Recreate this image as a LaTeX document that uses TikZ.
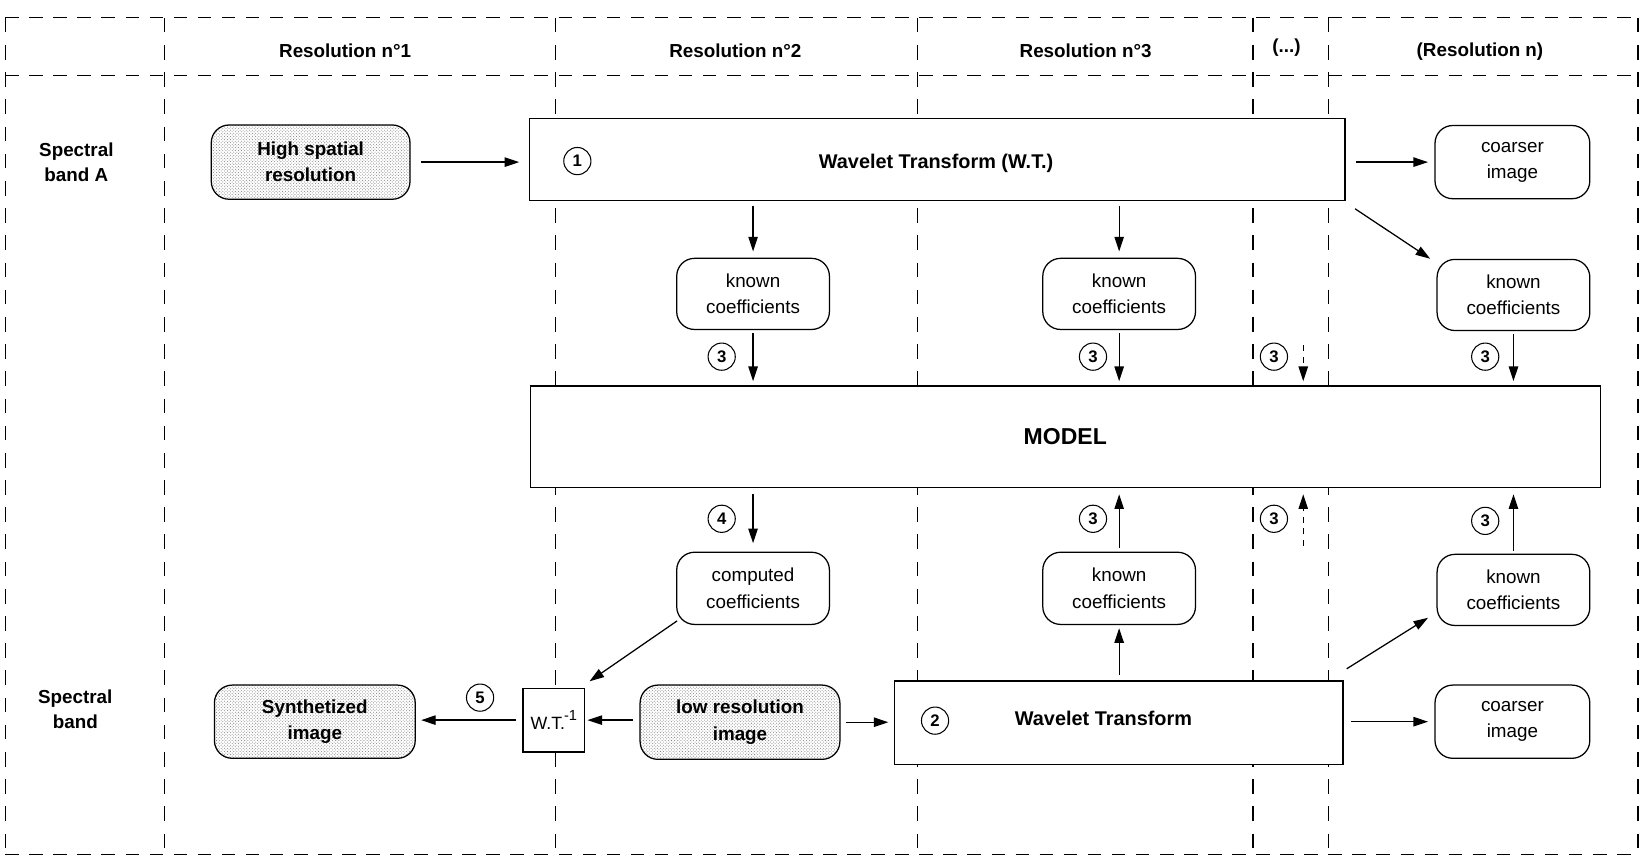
\documentclass[tikz,border=0pt]{standalone}
\usepackage{fontspec}
\setmainfont{Liberation Sans}
\usetikzlibrary{arrows.meta,patterns}
\begin{document}
\begin{tikzpicture}[x=1pt,y=-1pt,
  grid/.style={line width=1.1pt, dash pattern=on 13pt off 10pt},
  vgrid/.style={line width=1.1pt, dash pattern=on 14pt off 12pt},
  box/.style={draw, line width=1.2pt, fill=white, inner sep=0pt, align=center},
  rbox/.style={box, rounded corners=17pt, minimum width=146pt, minimum height=68pt, font=\fontsize{18}{25}\selectfont},
  shaded/.style={draw, line width=1.2pt, inner sep=0pt, align=center, rounded corners=17pt,
     preaction={fill=white}, pattern=crosshatch dots, pattern color=black!50,
     font=\bfseries\fontsize{18}{25}\selectfont},
  num/.style={draw, circle, line width=1pt, minimum size=26pt, inner sep=0pt, font=\bfseries\fontsize{16}{16}\selectfont},
  arr/.style={line width=1.2pt, -{Triangle[length=14pt,width=9pt]}},
  darr/.style={arr, dash pattern=on 6pt off 5pt},
  head/.style={font=\bfseries\fontsize{18}{24}\selectfont, align=center},
  big/.style={font=\bfseries\fontsize{19}{24}\selectfont},
]
\useasboundingbox[fill=white] (0,0) rectangle (1568,819);

% grid
\foreach \y in {17,72,817} \draw[grid] (5,\y) -- (1566,\y);
\foreach \x in {5,157,531,877,1198,1270,1566} \draw[vgrid] (\x,17) -- (\x,817);

% headers
\node[head] (h1) at (330,49) {Resolution n°1};
\node[head] (h2) at (703,49) {Resolution n°2};
\node[head] (h3) at (1038,49) {Resolution n°3};
\node[head] (h4) at (1230,46) {(...)};
\node[head] (h5) at (1415,49) {(Resolution n)};
\node[head] (rA) at (73,155) {Spectral\\band A};
\node[head] (rB) at (72,678) {Spectral\\band};

% nodes
\node[shaded, minimum width=190pt, minimum height=71pt] (hsr) at (297,155) {High spatial\\resolution};
\node[box, minimum width=780pt, minimum height=79pt] (wt1) at (896,152.5) {};
\node[big] (wt1t) at (895,156) {Wavelet Transform (W.T.)};
\node[num] (c1) at (552,154) {1};
\node[rbox, minimum width=148pt, minimum height=70pt] (coarse1) at (1446,155) {coarser\\image};
\node[rbox] (kA1) at (720,281) {known\\coefficients};
\node[rbox] (kA2) at (1070,281) {known\\coefficients};
\node[rbox] (kA3) at (1447,282) {known\\coefficients};
\node[box, minimum width=1023pt, minimum height=97pt, font=\bfseries\fontsize{22}{26}\selectfont] (model) at (1018.5,417.5) {MODEL};
\node[rbox, minimum height=69pt] (comp) at (720,562.5) {computed\\coefficients};
\node[rbox, minimum height=69pt] (kB2) at (1070,562.5) {known\\coefficients};
\node[rbox] (kB3) at (1447,564) {known\\coefficients};
\node[shaded, minimum width=192pt, minimum height=70pt] (synth) at (301,690) {Synthetized\\image};
\node[box, minimum width=59pt, minimum height=61pt, font=\fontsize{17}{22}\selectfont] (wtinv) at (529.5,688.5) {W.T.\kern-1pt\raisebox{8pt}{\fontsize{14}{14}\selectfont -1}};
\node[shaded, minimum width=191pt, minimum height=71pt] (lowres) at (707.5,690.5) {low resolution\\image};
\node[box, minimum width=429pt, minimum height=80pt] (wt2) at (1069.5,691) {};
\node[big] (wt2t) at (1055,687) {Wavelet Transform};
\node[num] (c2) at (894,689) {2};
\node[rbox, minimum width=148pt, minimum height=70pt] (coarse2) at (1446,690) {coarser\\image};

% step numbers
\node[num] (n1) at (690,341) {3};
\node[num] (n2) at (1045,341) {3};
\node[num] (n3) at (1218,341) {3};
\node[num] (n4) at (1420,341) {3};
\node[num] (n5) at (690,496) {4};
\node[num] (n6) at (1045,496) {3};
\node[num] (n7) at (1218,496) {3};
\node[num] (n8) at (1420,498) {3};
\node[num] (n9) at (459,667) {5};

% connectors
\draw[arr, shorten <=10pt, shorten >=9pt] (hsr.east) -- (hsr.east -| wt1.west);
\draw[arr, shorten <=10pt, shorten >=6pt] (wt1.east |- coarse1.west) -- (coarse1.west);
\draw[arr, shorten <=4pt, shorten >=6pt] (kA1.north |- wt1.south) -- (kA1.north);
\draw[arr, shorten <=4pt, shorten >=6pt] (kA2.north |- wt1.south) -- (kA2.north);
\draw[arr] ([shift={(9,7)}]wt1.south east) -- ([shift={(-6,0)}]kA3.north west);
\draw[arr, shorten <=3pt, shorten >=4pt] (kA1.south) -- (kA1.south |- model.north);
\draw[arr, shorten <=3pt, shorten >=4pt] (kA2.south) -- (kA2.south |- model.north);
\draw[arr, shorten <=3pt, shorten >=4pt] (kA3.south) -- (kA3.south |- model.north);
\coordinate (dt) at (1246,330);
\coordinate (db) at (1246,522);
\draw[darr, shorten >=4pt] (dt) -- (dt |- model.north);
\draw[darr, shorten >=6pt] (db) -- (db |- model.south);
\draw[arr, shorten <=6pt, shorten >=8pt] (comp.north |- model.south) -- (comp.north);
\draw[arr, shorten <=3pt, shorten >=6pt] (kB2.north) -- (kB2.north |- model.south);
\draw[arr, shorten <=3pt, shorten >=6pt] (kB3.north) -- (kB3.north |- model.south);
\draw[arr] ([shift={(1,-4)}]comp.south west) -- ([shift={(4,-6)}]wtinv.north east);
\draw[arr, shorten <=6pt, shorten >=2pt] (lowres.west |- wtinv.east) -- (wtinv.east);
\draw[arr, shorten <=6pt, shorten >=5pt] (wtinv.west) -- (synth.east |- wtinv.west);
\draw[arr, shorten <=5pt, shorten >=5pt] (lowres.east) -- (lowres.east -| wt2.west);
\draw[arr, shorten <=5pt, shorten >=3pt] (kB2.south |- wt2.north) -- (kB2.south);
\draw[arr] ([shift={(3,-11)}]wt2.north east) -- ([shift={(-8,-8)}]kB3.south west);
\draw[arr, shorten <=7pt, shorten >=6pt] (wt2.east |- coarse2.west) -- (coarse2.west);
\end{tikzpicture}
\end{document}
